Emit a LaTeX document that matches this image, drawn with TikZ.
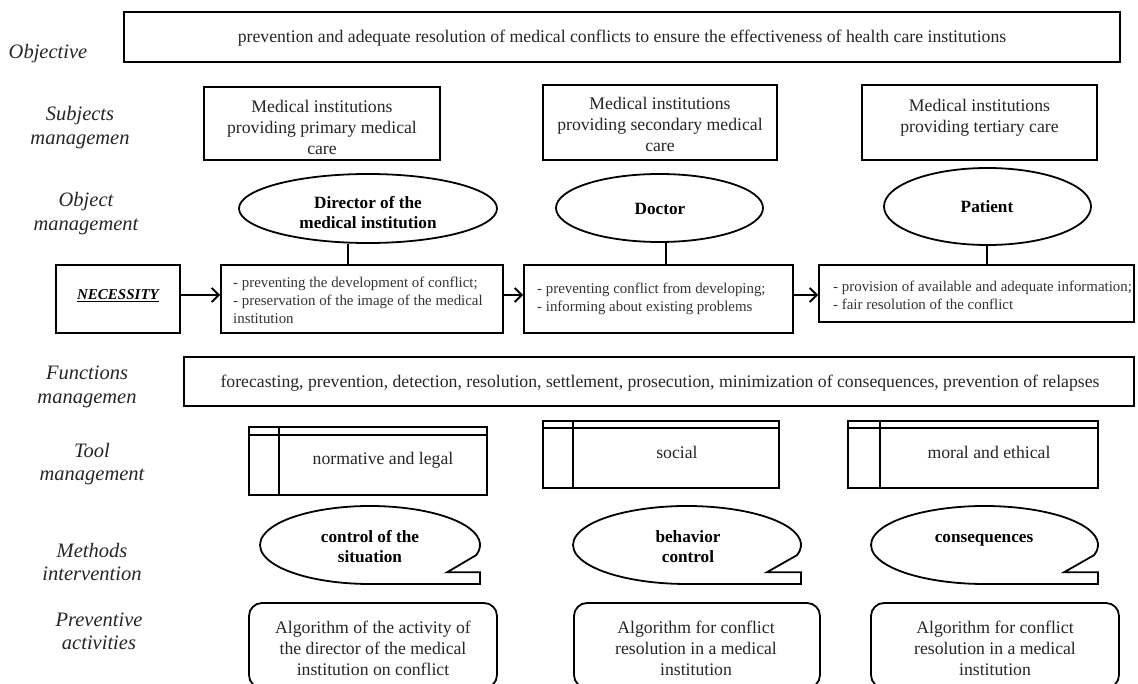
\documentclass[tikz,border=0pt]{standalone}
\usepackage{fontspec}
\setmainfont{Liberation Serif}
\usetikzlibrary{arrows.meta,shapes.geometric}
\newcommand{\mycallout}[4]{\draw[shp] (#1,#2) ++(15:#3 and #4) arc[start angle=15,end angle=-270,x radius=#3,y radius=#4] -- ++(#3,0) -- ++(0,{-0.3*#4}) -- ++({-0.3*#3},0) -- cycle;}
\begin{document}
\begin{tikzpicture}[x=1pt,y=-1pt,
 shp/.style={draw, line width=1.8pt},
 box/.style={draw, line width=1.8pt, inner sep=0pt, rectangle},
 rbox/.style={draw, line width=1.8pt, rounded corners=13pt},
 ell/.style={draw, ellipse, line width=1.8pt, inner sep=0pt},
 thin/.style={line width=1.8pt},
 lab/.style={font=\fontsize{20.5}{23.5}\selectfont\itshape, align=center, inner sep=0pt, text=black!85},
 txt/.style={font=\fontsize{17.7}{21}\selectfont, align=center, inner sep=0pt, text=black!85},
 btxt/.style={font=\fontsize{17.2}{20}\selectfont\bfseries, align=center, inner sep=0pt},
 stxt/.style={font=\fontsize{14.9}{18}\selectfont, align=left, inner sep=0pt, anchor=west, text=black!80},
 arr/.style={line width=2pt, -{Straight Barb[length=7pt,width=14pt]}}]
\path[use as bounding box, clip] (0,0) rectangle (1138,684);
\fill[white] (0,0) rectangle (1138,684);

% row labels
\node[lab] (l1) at (48,54) {Objective};
\node[lab] (l2) at (80,127.5) {Subjects\\managemen};
\node[lab] (l3) at (86,213.5) {Object\\management};
\node[lab] (l4) at (87,387) {Functions\\managemen};
\node[lab] (l5) at (92,464) {Tool\\management};
\node[lab] (l6) at (92,562) {Methods\\intervention};
\node[lab] (l7) at (99,631.5) {Preventive\\activities};

% objective
\node[box, minimum width=996, minimum height=50] (obj) at (622,37) {};
\node[txt] (objt) at (622,38) {prevention and adequate resolution of medical conflicts to ensure the effectiveness of health care institutions};

% subjects
\node[box, minimum width=236, minimum height=73] (b1) at (322,123.5) {};
\node[txt] (b1t) at (322,127) {Medical institutions\\providing primary medical\\care};
\node[box, minimum width=234, minimum height=75] (b2) at (660,122.5) {};
\node[txt] (b2t) at (660,124) {Medical institutions\\providing secondary medical\\care};
\node[box, minimum width=235, minimum height=75] (b3) at (979.5,122.5) {};
\node[txt] (b3t) at (979.5,117.5) {Medical institutions\\providing tertiary care};

% objects
\node[ell, minimum width=258, minimum height=69] (e1) at (368,208.5) {};
\node[btxt] (e1t) at (368,213) {Director of the\\medical institution};
\node[ell, minimum width=207, minimum height=68] (e2) at (659.5,208) {};
\node[btxt] (e2t) at (660,209) {Doctor};
\node[ell, minimum width=207, minimum height=77] (e3) at (987.5,206.5) {};
\node[btxt] (e3t) at (987,207) {Patient};

% necessity and action boxes
\node[box, minimum width=124, minimum height=68] (nec) at (118,299) {};
\node[font=\fontsize{15}{18}\selectfont\bfseries\itshape, inner sep=0pt] (nect) at (118,296) {\underline{NECESSITY}};
\node[box, minimum width=282, minimum height=68] (a1) at (362,299) {};
\node[stxt] (a1t) at (233,300) {- preventing the development of conflict;\\- preservation of the image of the medical\\institution};
\node[box, minimum width=269, minimum height=68] (a2) at (658.5,299) {};
\node[stxt] (a2t) at (537,299) {- preventing conflict from developing;\\- informing about existing problems};
\node[box, minimum width=315, minimum height=57] (a3) at (976.5,293.5) {};
\node[stxt] (a3t) at (833,295) {- provision of available and adequate information;\\- fair resolution of the conflict};

\coordinate (c1) at (348,0);
\coordinate (c2) at (666,0);
\coordinate (c3) at (987,0);
\draw[thin] (c1 |- e1.south) -- (c1 |- a1.north);
\draw[thin] (c2 |- e2.south) -- (c2 |- a2.north);
\draw[thin] (c3 |- e3.south) -- (c3 |- a3.north);

\draw[arr] ([yshift=4pt]nec.east) -- ([yshift=4pt]a1.west);
\draw[arr] ([yshift=4pt]a1.east) -- ([yshift=4pt]a2.west);
\draw[arr] ([yshift=4pt]a2.east) -- ([yshift=-1.5pt]a3.west);

% functions
\node[box, minimum width=950, minimum height=49] (fn) at (659,381.5) {};
\node[txt] (fnt) at (660,383) {forecasting, prevention, detection, resolution, settlement, prosecution, minimization of consequences, prevention of relapses};

% tools
\node[box, minimum width=238, minimum height=68] (t1) at (368,461) {};
\draw[thin] ([xshift=31pt]t1.north west) -- ([xshift=31pt]t1.south west);
\draw[thin] ([yshift=-9pt]t1.north west) -- ([yshift=-9pt]t1.north east);
\node[txt] (t1t) at (383,460) {normative and legal};
\node[box, minimum width=236, minimum height=67] (t2) at (661,454.5) {};
\draw[thin] ([xshift=31pt]t2.north west) -- ([xshift=31pt]t2.south west);
\draw[thin] ([yshift=-8pt]t2.north west) -- ([yshift=-8pt]t2.north east);
\node[txt] (t2t) at (677,452) {social};
\node[box, minimum width=250, minimum height=67] (t3) at (973,454.5) {};
\draw[thin] ([xshift=33pt]t3.north west) -- ([xshift=33pt]t3.south west);
\draw[thin] ([yshift=-8pt]t3.north west) -- ([yshift=-8pt]t3.north east);
\node[txt] (t3t) at (989,452) {moral and ethical};

% methods (callouts)
\mycallout{370}{545}{110}{39}
\node[btxt] (m1t) at (370,546.5) {control of the\\situation};
\mycallout{687}{545}{114}{39}
\node[btxt] (m2t) at (688,547) {behavior\\control};
\mycallout{984.5}{545}{113.5}{39}
\node[btxt] (m3t) at (984,540) {consequences};

% preventive activities
\draw[rbox] (249,603) rectangle (497,688);
\node[txt] (r1t) at (373,648) {Algorithm of the activity of\\the director of the medical\\institution on conflict};
\draw[rbox] (574,603) rectangle (820,688);
\node[txt] (r2t) at (696,648) {Algorithm for conflict\\resolution in a medical\\institution};
\draw[rbox] (871,603) rectangle (1119,688);
\node[txt] (r3t) at (995,648) {Algorithm for conflict\\resolution in a medical\\institution};
\end{tikzpicture}
\end{document}
